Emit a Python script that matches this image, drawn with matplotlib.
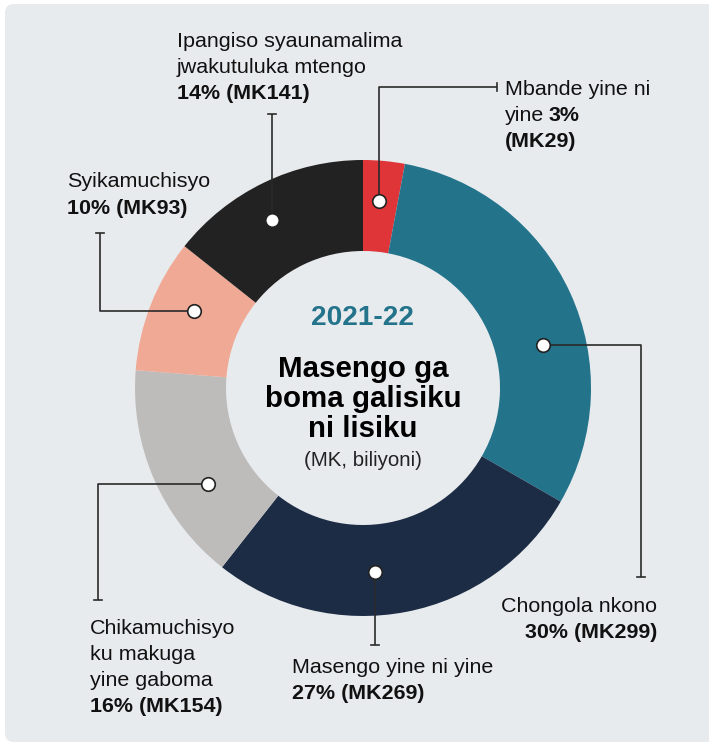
import numpy as np
import matplotlib
matplotlib.use("Agg")
import matplotlib.pyplot as plt
from matplotlib.patches import FancyBboxPatch

# ---------------- data ----------------
categories = ["Mbande yine ni yine", "Chongola nkono", "Masengo yine ni yine",
              "Chikamuchisyo ku makuga yine gaboma", "Syikamuchisyo",
              "Ipangiso syaunamalima jwakutuluka mtengo"]
values_mk = [29, 299, 269, 154, 93, 141]
percents = [3, 30, 27, 16, 10, 14]
colors = ["#e03538", "#23738b", "#1d2c45", "#bebcba", "#f0a995", "#222222"]

year_label = "2021-22"
title_lines = ["Masengo ga", "boma galisiku", "ni lisiku"]
unit_label = "(MK, biliyoni)"

# ---------------- layout (pixels) ----------------
W, H = 709, 746
CX, CY = 363, 388
R_OUT, R_IN = 228, 137

def Y(py):
    return H - py

LAB_FONT = "Liberation Sans"
CEN_FONT = "Liberation Sans"

fig = plt.figure(figsize=(W / 100, H / 100), dpi=100)
fig.patch.set_facecolor("white")
ax = fig.add_axes([0, 0, 1, 1])

bg = FancyBboxPatch((5, Y(742)), 720, 738, boxstyle="round,pad=0,rounding_size=9",
                    facecolor="#e8ebee", edgecolor="none", zorder=0)
ax.add_patch(bg)

wedges, _ = ax.pie(values_mk, colors=colors, startangle=90, counterclock=False,
                   center=(CX, Y(CY)), radius=R_OUT,
                   wedgeprops=dict(width=R_OUT - R_IN, edgecolor="none", zorder=2))

ax.set_xlim(0, W)
ax.set_ylim(0, H)
ax.set_aspect("auto")
ax.axis("off")

# dot anchors: angle clockwise from top (deg), radius
dot_angles = [4.9, 76.6, 176.3, 238.1, 294.4, 331.7]
dot_radius = [188, 185, 184, 182, 186, 191]
# leader paths: sequence of ('v', y) or ('h', x) in pixel coords
paths = [
    [("v", 87), ("h", 497)],
    [("h", 641), ("v", 577)],
    [("v", 645)],
    [("h", 98), ("v", 600)],
    [("h", 100), ("v", 233)],
    [("v", 114)],
]
line_col = "#2a2a2a"
for ang, rr, path in zip(dot_angles, dot_radius, paths):
    a = np.deg2rad(ang)
    dx, dy = CX + rr * np.sin(a), CY - rr * np.cos(a)
    xs, ys = [dx], [dy]
    for kind, v in path:
        if kind == "v":
            xs.append(xs[-1]); ys.append(v)
        else:
            xs.append(v); ys.append(ys[-1])
    ax.plot(xs, [Y(v) for v in ys], color=line_col, lw=1.2, zorder=3,
            solid_capstyle="butt")
    ex, ey = xs[-1], ys[-1]
    if path[-1][0] == "v":
        ax.plot([ex - 4, ex + 4], [Y(ey), Y(ey)], color=line_col, lw=1.2, zorder=3)
    else:
        ax.plot([ex, ex], [Y(ey - 4), Y(ey + 4)], color=line_col, lw=1.2, zorder=3)
    ax.scatter([dx], [Y(dy)], s=95, facecolor="white", edgecolor="#222222",
               linewidths=1.2, zorder=4)

LS = 21.5 * 0.72  # label font size in pt
def lab(x, y, s, bold=False, ha="left"):
    return ax.text(x, Y(y), s, fontsize=LS, family=[LAB_FONT, "DejaVu Sans"],
                   fontweight="bold" if bold else "normal", ha=ha, va="baseline",
                   color="#111111", zorder=5)

def pct_txt(i):
    return f"{percents[i]}% (MK{values_mk[i]})"

# Mbande yine ni yine 3% (MK29)
lab(505, 95, "Mbande yine ni")
t_yine = lab(505, 121, "yine")
fig.canvas.draw()
renderer = fig.canvas.get_renderer()
w_yine = t_yine.get_window_extent(renderer).width
lab(505 + w_yine + 4, 121, f"{percents[0]}%", bold=True)
lab(505, 147, f"(MK{values_mk[0]})", bold=True)

# Chongola nkono
lab(657, 612, "Chongola nkono", ha="right")
lab(657, 638, pct_txt(1), bold=True, ha="right")

# Masengo yine ni yine
lab(292, 673, "Masengo yine ni yine")
lab(292, 699, pct_txt(2), bold=True)

# Chikamuchisyo ku makuga yine gaboma
lab(90, 634, "Chikamuchisyo")
lab(90, 660, "ku makuga")
lab(90, 686, "yine gaboma")
lab(90, 712, pct_txt(3), bold=True)

# Syikamuchisyo
lab(67, 187, "Syikamuchisyo")
lab(67, 214, pct_txt(4), bold=True)

# Ipangiso
lab(177, 47, "Ipangiso syaunamalima")
lab(177, 73, "jwakutuluka mtengo")
lab(177, 99, pct_txt(5), bold=True)

# center text
ax.text(CX, Y(325), year_label, fontsize=28 * 0.72, fontweight="bold",
        family=CEN_FONT, color="#23738b", ha="center", va="baseline", zorder=5)
for k, s in enumerate(title_lines):
    ax.text(CX, Y(377 + 30 * k), s, fontsize=29.5 * 0.72, fontweight="bold",
            family=CEN_FONT, color="#000000", ha="center", va="baseline", zorder=5)
ax.text(CX, Y(466), unit_label, fontsize=20.5 * 0.72, family=CEN_FONT,
        color="#222222", ha="center", va="baseline", zorder=5)

fig.savefig("out.png", dpi=100, facecolor="white")
